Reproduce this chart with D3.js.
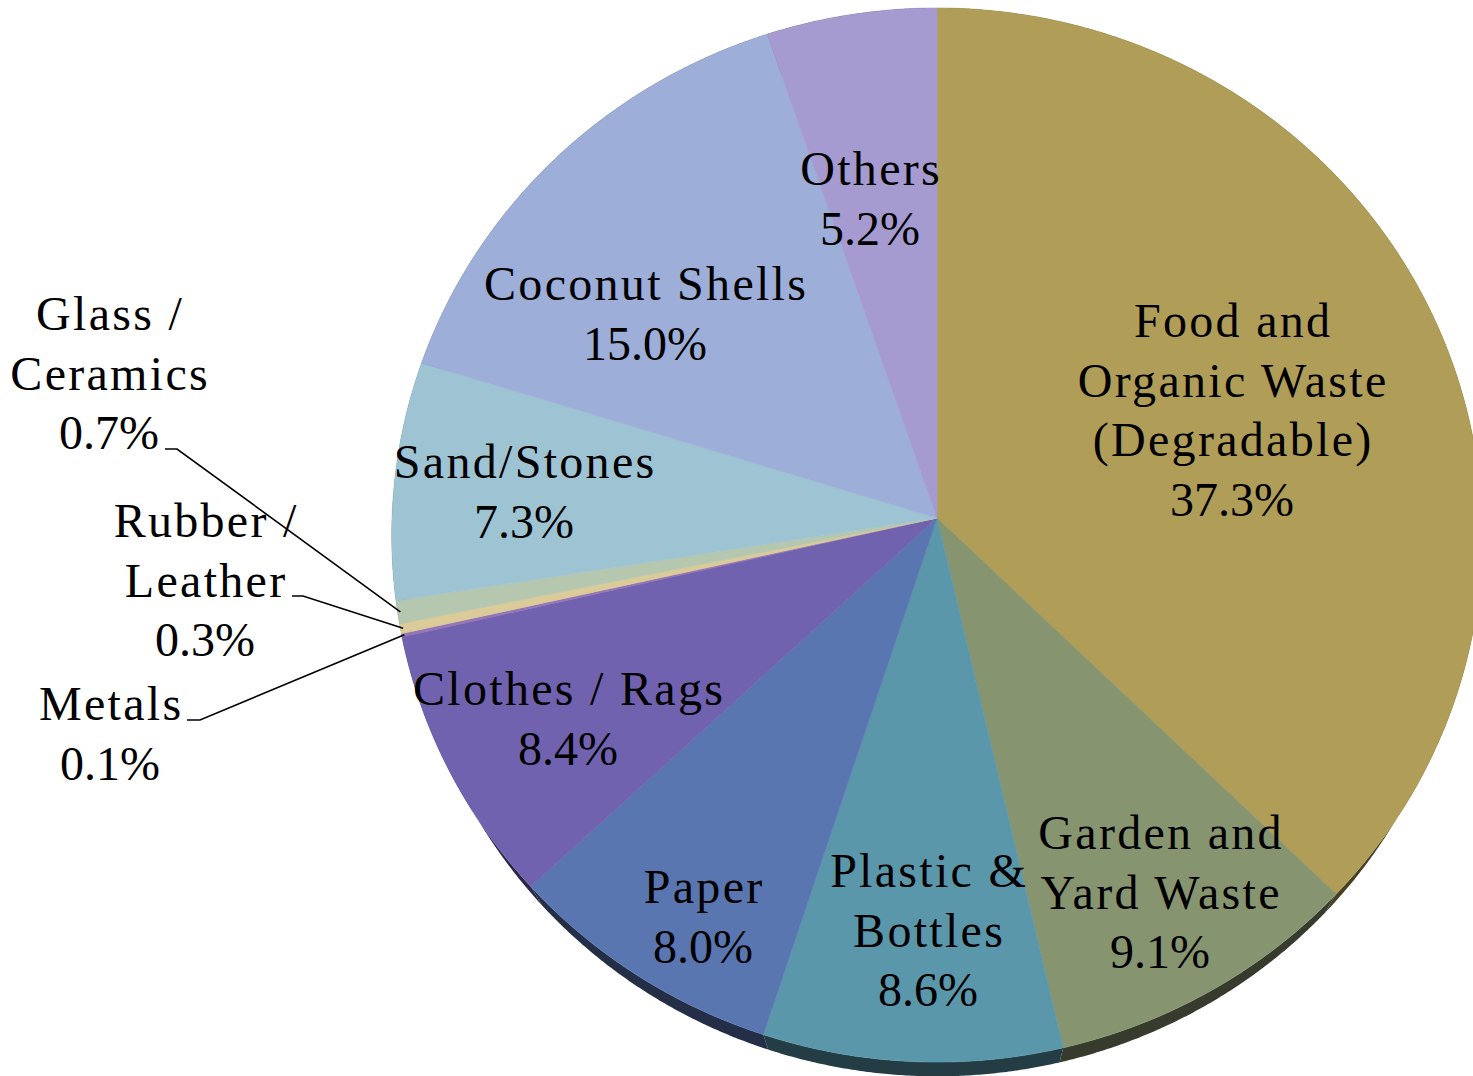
<!DOCTYPE html>
<html>
<head>
<meta charset="utf-8">
<script src="https://cdn.jsdelivr.net/npm/d3@7"></script>
<style>
  html, body { margin: 0; padding: 0; background: #ffffff; }
  svg { display: block; }
  text { font-family: "Liberation Serif", "Times New Roman", serif; fill: #000; }
</style>
</head>
<body>
<svg id="chart" width="1473" height="1076"></svg>
<script>
// ---- data ----
const categories = [
  "Food and Organic Waste (Degradable)",
  "Garden and Yard Waste",
  "Plastic & Bottles",
  "Paper",
  "Clothes / Rags",
  "Metals",
  "Rubber / Leather",
  "Glass / Ceramics",
  "Sand/Stones",
  "Coconut Shells",
  "Others"
];
const values = [37.3, 9.1, 8.6, 8.0, 8.4, 0.1, 0.3, 0.7, 7.3, 15.0, 5.2];
const labelLines = [
  ["Food and", "Organic Waste", "(Degradable)"],
  ["Garden and", "Yard Waste"],
  ["Plastic &", "Bottles"],
  ["Paper"],
  ["Clothes / Rags"],
  ["Metals"],
  ["Rubber /", "Leather"],
  ["Glass /", "Ceramics"],
  ["Sand/Stones"],
  ["Coconut Shells"],
  ["Others"]
];
const colors = ["#AF9D58", "#879470", "#5B97AB", "#5A76B1", "#7162B0",
                "#9675B5", "#DACB99", "#B5C7AE", "#9EC4D4", "#9DAED9", "#A59BD0"];

// ---- layout (label anchor: centre x, first baseline) ----
const labelPos = [
  [1232, 337], [1160, 849], [928, 887], [703, 903], [568, 705],
  [110, 720], [205, 537], [109, 330], [524, 478], [645, 300], [870, 185]
];
// leader elbows for outside labels: [startX, startY, elbowX]
const leaders = { 5: [187, 720, 200], 6: [292, 596, 303], 7: [165, 449, 177] };

const LINE_H = 59.5;
const FONT = 48;
const WORD_SPACING = 2.3;

// perspective projection of a tilted pie
const CX = 937, CY = 518, A = 545, B = 526.5, K = 0.0323;
const DROP = 30, SHRINK = 0.971;
function proj(theta, f) {
  const s = Math.sin(theta), c = Math.cos(theta);
  const d = 1 + K * c * f;
  return [CX + A * f * s / d, CY - B * f * c / d];
}
function projBottom(theta) {
  const s = Math.sin(theta), c = Math.cos(theta);
  const d = 1 + K * c;
  return [CX + SHRINK * A * s / d, CY + DROP - SHRINK * B * c / d];
}
function arcPoints(a0, a1, fn) {
  const n = Math.max(2, Math.ceil((a1 - a0) / 0.005));
  const pts = [];
  for (let i = 0; i <= n; i++) pts.push(fn(a0 + (a1 - a0) * i / n));
  return pts;
}

const svg = d3.select("#chart");
const pie = d3.pie().sort(null).value(d => d).startAngle(0).endAngle(2 * Math.PI);
const arcs = pie(values);
const line = d3.line();

// side walls (drawn first, mostly hidden by the top faces)
svg.append("g").selectAll("path")
  .data(arcs)
  .join("path")
  .attr("d", a => {
    const top = arcPoints(a.startAngle, a.endAngle, t => proj(t, 1));
    const bot = arcPoints(a.startAngle, a.endAngle, projBottom).reverse();
    return line(top.concat(bot)) + "Z";
  })
  .attr("fill", (a, i) => {
    const c = d3.rgb(colors[i]);
    return d3.rgb(c.r * 0.4, c.g * 0.4, c.b * 0.4).formatHex();
  });

// top faces
svg.append("g").selectAll("path")
  .data(arcs)
  .join("path")
  .attr("d", a => {
    const pts = [[CX, CY]].concat(arcPoints(a.startAngle, a.endAngle, t => proj(t, 1)));
    return line(pts) + "Z";
  })
  .attr("fill", (a, i) => colors[i])
  .attr("stroke", (a, i) => colors[i])
  .attr("stroke-width", 0.6);

// leader lines
const lg = svg.append("g");
Object.keys(leaders).forEach(k => {
  const i = +k, a = arcs[i];
  const mid = (a.startAngle + a.endAngle) / 2;
  const end = proj(mid, 0.995);
  const [sx, sy, ex] = leaders[k];
  lg.append("path")
    .attr("d", line([[sx, sy], [ex, sy], end]))
    .attr("fill", "none")
    .attr("stroke", "#000")
    .attr("stroke-width", 1.6);
});

// labels
const tg = svg.append("g");
arcs.forEach((a, i) => {
  const [x, y] = labelPos[i];
  const words = labelLines[i];
  const lines = words.concat([values[i].toFixed(1) + "%"]);
  const t = tg.append("text")
    .attr("text-anchor", "middle")
    .attr("font-size", FONT);
  lines.forEach((s, j) => {
    const isWord = j < words.length;
    t.append("tspan")
      .attr("x", x + (isWord ? WORD_SPACING / 2 : 0))
      .attr("y", y + j * LINE_H)
      .attr("letter-spacing", isWord ? WORD_SPACING : 0)
      .text(s);
  });
});
</script>
</body>
</html>
